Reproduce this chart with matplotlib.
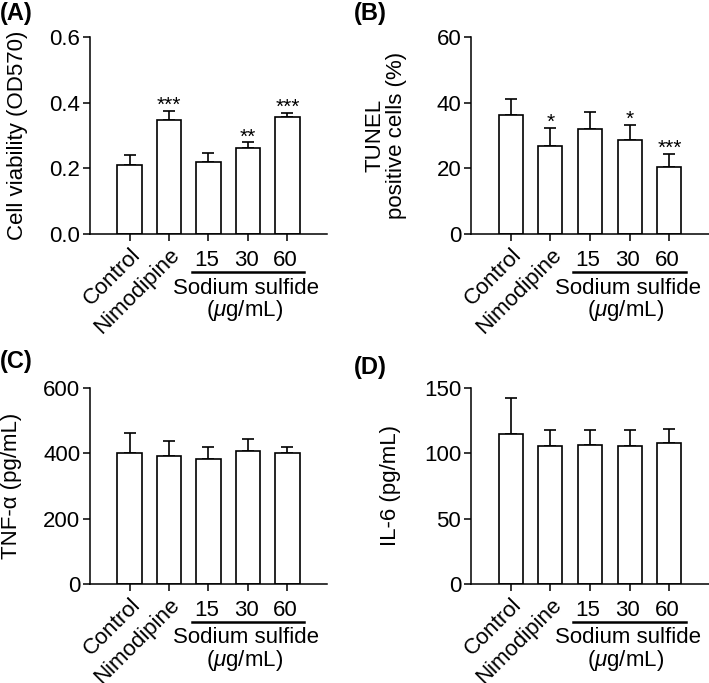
# Four bar panels: viability, TUNEL, TNF-a, IL-6
import numpy as np
import matplotlib
matplotlib.use("Agg")
import matplotlib.pyplot as plt

plt.rcParams["font.family"] = ["Liberation Sans", "DejaVu Sans"]
plt.rcParams["mathtext.fontset"] = "custom"
plt.rcParams["mathtext.rm"] = "Liberation Sans"
plt.rcParams["mathtext.it"] = "Liberation Sans:italic"

# ------------------------------------------
# Data
# ------------------------------------------

groups = ["Control", "Nimodipine", "15", "30", "60"]

viability = [0.210, 0.347, 0.220, 0.261, 0.357]
viability_err = [0.030, 0.027, 0.028, 0.018, 0.011]
viability_stars = ["", "***", "", "**", "***"]

tunel = [36.1, 26.8, 31.9, 28.6, 20.4]
tunel_err = [5.0, 5.5, 5.3, 4.6, 4.0]
tunel_stars = ["", "*", "", "*", "***"]

tnf = [400, 392, 384, 408, 400]
tnf_err = [62, 46, 34, 36, 19]

il6 = [115, 105.4, 106.6, 105.4, 108.2]
il6_err = [27, 12.2, 11, 12.2, 10.2]

W, H = 709, 683
FS = 16

fig = plt.figure(figsize=(W / 100, H / 100), dpi=100)


def add_axes(left, top, right, bottom):
    return fig.add_axes([left / W, 1 - bottom / H, (right - left) / W, (bottom - top) / H])


def panel(ax, values, errs, ylim, yticks, yticklabels, ylabel, label_x, stars=None):
    x = np.arange(len(values))
    ax.bar(x, values, width=0.61, color="white", edgecolor="black", linewidth=1.2, zorder=2)
    ax.errorbar(x, values, yerr=[np.zeros(len(errs)), errs], fmt="none",
                ecolor="black", elinewidth=1.2, capsize=4, capthick=1.2, zorder=1)
    if stars:
        for xi, v, e, s in zip(x, values, errs, stars):
            if s:
                ax.text(xi, v + e, s, ha="center", va="baseline", fontsize=15)

    ax.set_xlim(-1, 5)
    ax.set_ylim(*ylim)
    ax.set_yticks(yticks)
    ax.set_yticklabels(yticklabels, fontsize=FS)
    ax.set_xticks(x)
    ax.set_xticklabels([])
    ax.tick_params(direction="out", length=5, width=1.1, pad=2)
    for side in ["top", "right"]:
        ax.spines[side].set_visible(False)
    for side in ["left", "bottom"]:
        ax.spines[side].set_linewidth(1.1)

    ax.set_ylabel(ylabel, fontsize=FS, linespacing=1.0)
    ax.yaxis.set_label_coords(label_x, 0.5)

    tr = ax.get_xaxis_transform()
    for xi, name in zip(x[:2], groups[:2]):
        ax.text(xi + 0.2, -0.09, name, transform=tr, rotation=45, rotation_mode="anchor",
                ha="right", va="center", fontsize=FS)
    for xi, name in zip(x[2:], groups[2:]):
        ax.text(xi - 0.05, -0.135, name, transform=tr, ha="center", va="center", fontsize=FS)
    ax.plot([1.57, 4.43], [-0.193, -0.193], transform=tr, color="black",
            linewidth=1.8, clip_on=False)
    ax.text(2.95, -0.275, "Sodium sulfide", transform=tr, ha="center", va="center", fontsize=FS)
    ax.text(2.9, -0.39, r"($\mu$g/mL)", transform=tr, ha="center", va="center", fontsize=FS)


# ------------------------------------------
# Panels
# ------------------------------------------

ax_a = add_axes(90, 37, 327, 234)
panel(ax_a, viability, viability_err, (0, 0.6), [0, 0.2, 0.4, 0.6],
      ["0.0", "0.2", "0.4", "0.6"], "Cell viability (OD570)", -0.26, viability_stars)

ax_b = add_axes(471, 37, 709, 234)
panel(ax_b, tunel, tunel_err, (0, 60), [0, 20, 40, 60],
      ["0", "20", "40", "60"], "TUNEL\npositive cells (%)", -0.27, tunel_stars)

ax_c = add_axes(90, 388, 327, 584)
panel(ax_c, tnf, tnf_err, (0, 600), [0, 200, 400, 600],
      ["0", "200", "400", "600"], "TNF-α (pg/mL)", -0.285)

ax_d = add_axes(471, 388, 709, 584)
panel(ax_d, il6, il6_err, (0, 150), [0, 50, 100, 150],
      ["0", "50", "100", "150"], "IL-6 (pg/mL)", -0.294)

# panel letters
for x, y, letter in [(0, 2, "(A)"), (354, 2, "(B)"), (0, 350, "(C)"), (354, 356, "(D)")]:
    fig.text(x / W, 1 - y / H, letter, ha="left", va="top", fontsize=17, fontweight="bold")

fig.savefig("out.png", dpi=100)
